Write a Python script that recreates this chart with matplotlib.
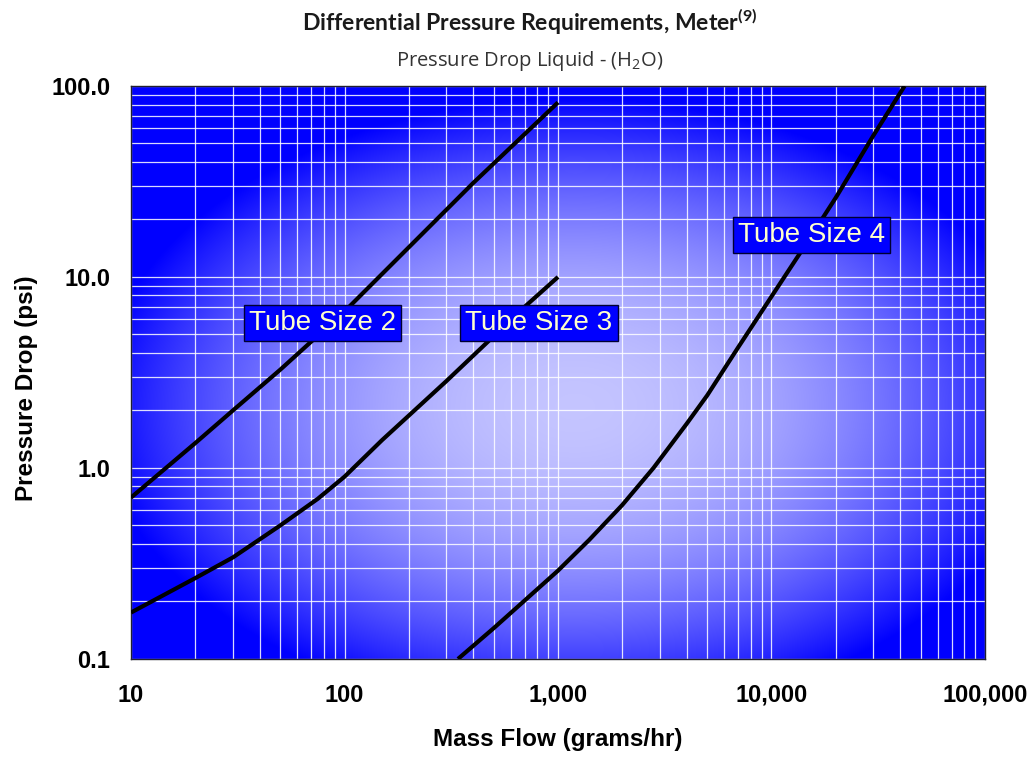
import numpy as np
import matplotlib
matplotlib.use('Agg')
import matplotlib.pyplot as plt
from matplotlib.ticker import LogLocator, FixedLocator, FixedFormatter, NullFormatter

# values
tube2_flow = [10, 20, 30, 50, 100, 200, 400, 1000]
tube2_dp = [0.70, 1.35, 2.0, 3.27, 6.6, 14.3, 31, 82]

tube3_flow = [10, 20, 30, 50, 75, 100, 150, 200, 300, 500, 700, 1000]
tube3_dp = [0.175, 0.265, 0.34, 0.50, 0.69, 0.90, 1.4, 1.88, 2.85, 4.9, 7.0, 10]

tube4_flow = [340, 500, 690, 1000, 1400, 2000, 2800, 4000, 5000, 7000, 10000, 14000, 20000, 30000, 42000]
tube4_dp = [0.10, 0.145, 0.20, 0.29, 0.42, 0.64, 1.0, 1.7, 2.4, 4.3, 7.9, 14, 26, 55, 100]

labels = ['Tube Size 2', 'Tube Size 3', 'Tube Size 4']

x_ticks = [10, 100, 1000, 10000, 100000]
x_ticklabels = ['10', '100', '1,000', '10,000', '100,000']
y_ticks = [0.1, 1, 10, 100]
y_ticklabels = ['0.1', '1.0', '10.0', '100.0']

plt.rcParams['font.family'] = ['Liberation Sans', 'DejaVu Sans']
plt.rcParams['mathtext.fontset'] = 'custom'
plt.rcParams['mathtext.rm'] = 'Open Sans'
plt.rcParams['mathtext.bf'] = 'Lato:bold'

fig = plt.figure(figsize=(10.34, 7.59), dpi=100)
ax = fig.add_axes([0.1267, 0.1318, 0.8259, 0.7549])

# radial blue/white background
u = np.linspace(0, 1, 400)
v = np.linspace(0, 1, 300)
U, V = np.meshgrid(u, v)
d = ((U - 0.52) / 0.56) ** 2 + ((V - 0.44) / 0.54) ** 2
w = 0.77 * np.clip(1 - d, 0, 1)
img = np.dstack([w, w, np.ones_like(w)])
ax.imshow(img, extent=[0, 1, 0, 1], transform=ax.transAxes, origin='lower',
          aspect='auto', zorder=0, interpolation='bilinear')

ax.set_xscale('log')
ax.set_yscale('log')
ax.set_xlim(10, 100000)
ax.set_ylim(0.1, 100)

ax.plot(tube2_flow, tube2_dp, color='black', lw=3, solid_capstyle='butt',
        solid_joinstyle='round', zorder=3)
ax.plot(tube3_flow, tube3_dp, color='black', lw=3, solid_capstyle='butt',
        solid_joinstyle='round', zorder=3)
ax.plot(tube4_flow, tube4_dp, color='black', lw=3, solid_capstyle='butt',
        solid_joinstyle='round', zorder=3)

ax.xaxis.set_major_locator(FixedLocator(x_ticks))
ax.xaxis.set_major_formatter(FixedFormatter(x_ticklabels))
ax.yaxis.set_major_locator(FixedLocator(y_ticks))
ax.yaxis.set_major_formatter(FixedFormatter(y_ticklabels))
ax.xaxis.set_minor_locator(LogLocator(base=10, subs=np.arange(2, 10), numticks=20))
ax.yaxis.set_minor_locator(LogLocator(base=10, subs=np.arange(2, 10), numticks=20))
ax.xaxis.set_minor_formatter(NullFormatter())
ax.yaxis.set_minor_formatter(NullFormatter())

ax.grid(True, which='both', color='white', lw=0.9, alpha=0.85, zorder=1)
ax.tick_params(which='both', length=0)
ax.tick_params(axis='x', pad=18, labelsize=17)
ax.tick_params(axis='y', pad=15, labelsize=17)
for t in ax.get_xticklabels() + ax.get_yticklabels():
    t.set_fontweight('bold')

for s in ax.spines.values():
    s.set_color('#202030')
    s.set_linewidth(1)

ax.set_xlabel('Mass Flow (grams/hr)', fontsize=17.5, fontweight='bold', va='center')
ax.xaxis.set_label_coords(0.5, -0.141)
ax.set_ylabel('Pressure Drop (psi)', fontsize=17.5, fontweight='bold', va='center')
ax.yaxis.set_label_coords(-0.122, 0.473)

box = dict(boxstyle='square,pad=0.18', facecolor='#0000ff', edgecolor='#000033', lw=1)
label_pos = [(0.2237, 0.5864), (0.4778, 0.5864), (0.797, 0.740)]
for text, (px, py) in zip(labels, label_pos):
    ax.text(px, py, text, transform=ax.transAxes, ha='center', va='center',
            fontsize=20, color='#ffffcc', bbox=box, zorder=5)

fig.text(0.5126, 0.959, r'Differential Pressure Requirements, Meter$^{\mathbf{(9)}}$',
         ha='center', va='baseline', fontsize=16.6, fontweight='bold',
         family='Lato', color='#1a1a1a')
fig.text(0.5126, 0.913, r'Pressure Drop Liquid - (H$_{\mathrm{2}}$O)',
         ha='center', va='baseline', fontsize=14.5, family='Open Sans', color='#333333')

fig.savefig('out.png', dpi=100)
